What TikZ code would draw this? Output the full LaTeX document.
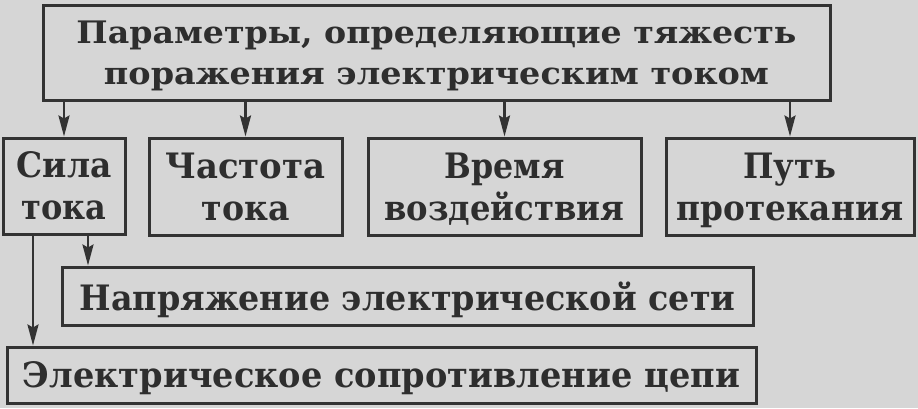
\documentclass[tikz,border=0pt]{standalone}
\usepackage{fontspec}
\setmainfont{DejaVu Serif}
\usepackage{graphicx}
\usepackage{xcolor}
\usepackage{tikz}
\usetikzlibrary{
	arrows.meta,
	positioning
}

\definecolor{paper}{HTML}{D6D6D6}
\definecolor{ink}{HTML}{333333}
\newcommand{\wline}[2]{\resizebox{#1}{\height}{#2}}

\tikzset{
	box/.style={draw=ink, line width=3pt, inner sep=0pt, align=center, text=ink!90!black, text depth=0pt},
	arr/.style={draw=ink, line width=2.5pt, -{Stealth[length=21pt,width=11pt,inset=3pt]}}
}

\begin{document}
\begin{tikzpicture}[x=1pt, y=-1pt]
				\def\rowfont{\bfseries\fontsize{35}{42}\selectfont}

				\fill[paper] (0, 0) rectangle (918, 408) ;
				\useasboundingbox (0, 0) rectangle (918, 408) ;

				% top box
				\node[box, minimum width=787pt, minimum height=95pt, font=\bfseries\fontsize{31}{41}\selectfont] (param) at (436.5, 52.5)
					{\wline{720pt}{Параметры, определяющие тяжесть}\\\wline{665pt}{поражения электрическим током}} ;

				% second row
				\node[box, minimum width=122pt, minimum height=96pt, font=\rowfont] (sila) at (64, 186)
					{\wline{95pt}{Сила}\\\wline{85pt}{тока}} ;
				\node[box, minimum width=193pt, minimum height=97pt, font=\rowfont] (chast) at (245.5, 186.5)
					{\wline{160pt}{Частота}\\\wline{88pt}{тока}} ;
				\node[box, minimum width=273pt, minimum height=97pt, font=\rowfont] (vremya) at (504.5, 186.5)
					{\wline{120pt}{Время}\\\wline{240pt}{воздействия}} ;
				\node[box, minimum width=248pt, minimum height=97pt, font=\rowfont] (put) at (790, 186.5)
					{\wline{93pt}{Путь}\\\wline{227pt}{протекания}} ;

				% lower rows
				\node[box, minimum width=691pt, minimum height=58pt, font=\rowfont] (napr) at (407.5, 296)
					{\wline{656pt}{Напряжение электрической сети}} ;
				\node[box, minimum width=749pt, minimum height=56pt, font=\rowfont] (soprot) at (381.5, 375)
					{\wline{717pt}{Электрическое сопротивление цепи}} ;

				\foreach \n in {sila, chast, vremya, put}
					\draw[arr] (param.south -| \n.north) -- (\n.north) ;

				\coordinate (s1) at ([xshift=24pt]sila.south) ;
				\coordinate (s2) at ([xshift=-31pt]sila.south) ;
				\draw[arr] (s1) -- (s1 |- napr.north) ;
				\draw[arr] (s2) -- (s2 |- soprot.north) ;
			\end{tikzpicture}
\end{document}
